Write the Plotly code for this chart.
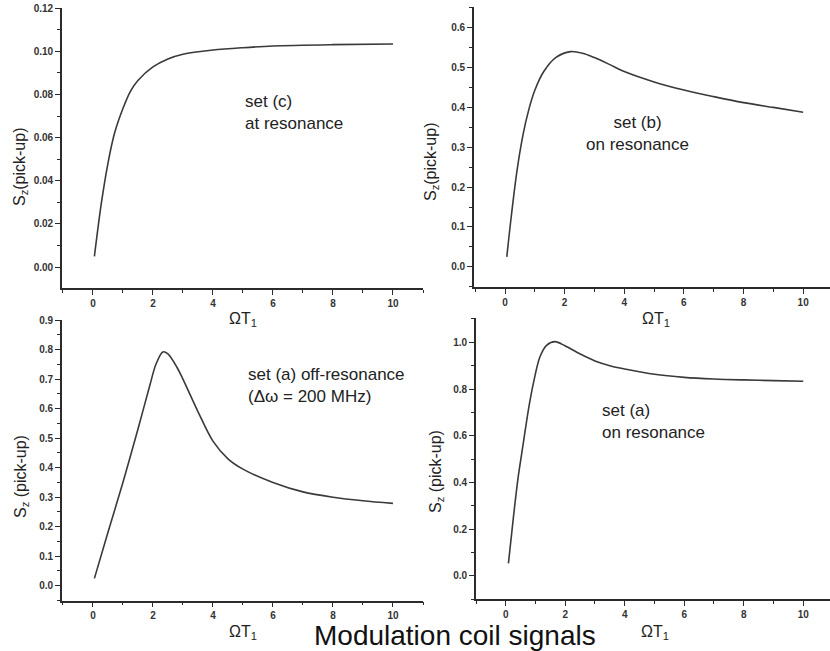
import plotly.graph_objects as go

W, H = 830, 651

# ---- data ----
x_c = [0.05, 0.28, 0.5, 0.72, 1.0, 1.25, 1.5, 2.0, 2.5, 3.0, 4, 5, 6, 8, 10]
y_c = [0.005, 0.0295, 0.048, 0.062, 0.0735, 0.0815, 0.0865, 0.0928, 0.0965, 0.0987,
       0.1006, 0.1017, 0.1025, 0.1031, 0.1034]

x_b = [0.06, 0.2, 0.4, 0.6, 0.8, 1.0, 1.3, 1.7, 2.2, 2.6, 3.0, 3.5, 4, 5, 6, 7, 8, 9, 10]
y_b = [0.025, 0.12, 0.24, 0.33, 0.395, 0.443, 0.49, 0.525, 0.54, 0.536, 0.525, 0.508, 0.49,
       0.464, 0.4435, 0.427, 0.412, 0.400, 0.388]

x_a_off = [0.05, 0.5, 1.0, 1.5, 1.9, 2.1, 2.33, 2.5, 2.8, 3.0, 3.5, 4.0, 4.5, 5, 6, 7, 8, 9, 10]
y_a_off = [0.025, 0.18, 0.35, 0.53, 0.68, 0.75, 0.792, 0.785, 0.74, 0.70, 0.59, 0.49, 0.43,
           0.395, 0.35, 0.318, 0.30, 0.288, 0.279]

x_a_on = [0.09, 0.26, 0.42, 0.59, 0.76, 0.93, 1.15, 1.38, 1.66, 1.99, 2.5, 3.0, 3.5, 4.0, 5, 6, 7, 8, 9, 10]
y_a_on = [0.054, 0.254, 0.425, 0.568, 0.71, 0.825, 0.938, 0.988, 1.003, 0.985, 0.95, 0.92,
          0.90, 0.886, 0.863, 0.85, 0.843, 0.839, 0.836, 0.833]

x_ticks = [0, 2, 4, 6, 8, 10]
x_title = "ΩT<sub>1</sub>"
y_title_top = "S<sub>z</sub>(pick-up)"
y_title_bot = "S<sub>z</sub> (pick-up)"
main_title = "Modulation coil signals"

LINE = "#3a3a3a"
AX = "#2b2b2b"
FONT = "Liberation Sans, Arial, sans-serif"


def px(x):
    return min(1.0, max(0.0, x / W))


def py(y):
    return min(1.0, max(0.0, 1 - y / H))


fig = go.Figure()

panels = [
    # x, y, xdomain px, ydomain px (top,bottom), xrange, yrange, dtick, minor, fmt
    (x_c, y_c, (62, 423), (8, 288), [-1.03, 11], [-0.0097, 0.1201], 0.02, 0.01, ".2f"),
    (x_b, y_b, (474, 830), (7, 286.7), [-1.04, 10.9], [-0.05, 0.652], 0.1, 0.05, ".1f"),
    (x_a_off, y_a_off, (62, 423), (320, 600.5), [-1.03, 11], [-0.05, 0.9001], 0.1, 0.05, ".1f"),
    (x_a_on, y_a_on, (476, 830), (318, 599.3), [-1.0, 10.9], [-0.1, 1.104], 0.2, 0.1, ".1f"),
]

for i, (xs, ys, xd, yd, xr, yr, dt, mdt, fmt) in enumerate(panels, start=1):
    sfx = "" if i == 1 else str(i)
    fig.add_trace(go.Scatter(
        x=xs, y=ys, mode="lines",
        line=dict(color=LINE, width=1.6, shape="spline", smoothing=0.9),
        xaxis="x" + sfx, yaxis="y" + sfx, showlegend=False, hoverinfo="skip",
        cliponaxis=False))
    tickfont = dict(family=FONT, size=10, color="#333", weight="bold")
    fig.layout["xaxis" + sfx] = dict(
        domain=[px(xd[0]), px(xd[1])], range=xr, anchor="y" + sfx, automargin=False,
        tickvals=x_ticks, ticks="outside", ticklen=5, tickwidth=1.3, tickcolor=AX,
        showline=True, linecolor=AX, linewidth=1.8, showgrid=False, zeroline=False,
        tickfont=tickfont, ticklabeloverflow="allow",
        minor=dict(ticks="outside", ticklen=3, tickwidth=1.2, tickcolor=AX, dtick=1, tick0=0,
                   showgrid=False),
    )
    fig.layout["yaxis" + sfx] = dict(
        domain=[py(yd[1]), py(yd[0])], range=yr, anchor="x" + sfx, automargin=False,
        tick0=0, dtick=dt, tickformat=fmt, ticks="outside", ticklen=5, tickwidth=1.3,
        tickcolor=AX, showline=True, linecolor=AX, linewidth=1.8, showgrid=False,
        zeroline=False, tickfont=tickfont, ticklabeloverflow="allow",
        minor=dict(ticks="outside", ticklen=3, tickwidth=1.2, tickcolor=AX, dtick=mdt, tick0=0,
                   showgrid=False),
    )

ann = []
# x axis titles
for (cx, cy) in [(243, 320), (656, 320), (243, 632), (655, 632)]:
    ann.append(dict(x=px(cx), y=py(cy), xref="paper", yref="paper", text=x_title,
                    showarrow=False, font=dict(family=FONT, size=16, color="#222"),
                    xanchor="center", yanchor="middle"))
# y axis titles
for (cx, cy, t) in [(21, 167, y_title_top), (431, 162, y_title_top),
                    (21, 477, y_title_bot), (436, 472, y_title_bot)]:
    ann.append(dict(x=px(cx), y=py(cy), xref="paper", yref="paper", text=t, textangle=-90,
                    showarrow=False, font=dict(family=FONT, size=16, color="#222"),
                    xanchor="center", yanchor="middle"))
# panel labels
lab_font = dict(family=FONT, size=17, color="#222")
ann.append(dict(x=px(243), y=py(113), xref="paper", yref="paper",
                text="set (c)<br>at resonance", showarrow=False, font=lab_font,
                xanchor="left", yanchor="middle", align="left"))
ann.append(dict(x=px(637), y=py(133), xref="paper", yref="paper",
                text="set (b)<br>on resonance", showarrow=False, font=lab_font,
                xanchor="center", yanchor="middle", align="center"))
ann.append(dict(x=px(246), y=py(386), xref="paper", yref="paper",
                text="set (a) off-resonance<br>(Δω = 200 MHz)", showarrow=False, font=lab_font,
                xanchor="left", yanchor="middle", align="left"))
ann.append(dict(x=px(600), y=py(421), xref="paper", yref="paper",
                text="set (a)<br>on resonance", showarrow=False, font=lab_font,
                xanchor="left", yanchor="middle", align="left"))
# bottom title
ann.append(dict(x=px(455), y=py(635), xref="paper", yref="paper", text=main_title,
                showarrow=False, font=dict(family=FONT, size=28, color="#111"),
                xanchor="center", yanchor="middle"))

fig.update_layout(
    width=W, height=H, margin=dict(l=0, r=0, t=0, b=0),
    paper_bgcolor="white", plot_bgcolor="white",
    annotations=ann, showlegend=False,
)

# remove the browser's default 8px body margin so the 830x651 figure fills the window
fig.write_html("out.html", config={"displayModeBar": False},
               post_script="document.body.style.margin='0';")
